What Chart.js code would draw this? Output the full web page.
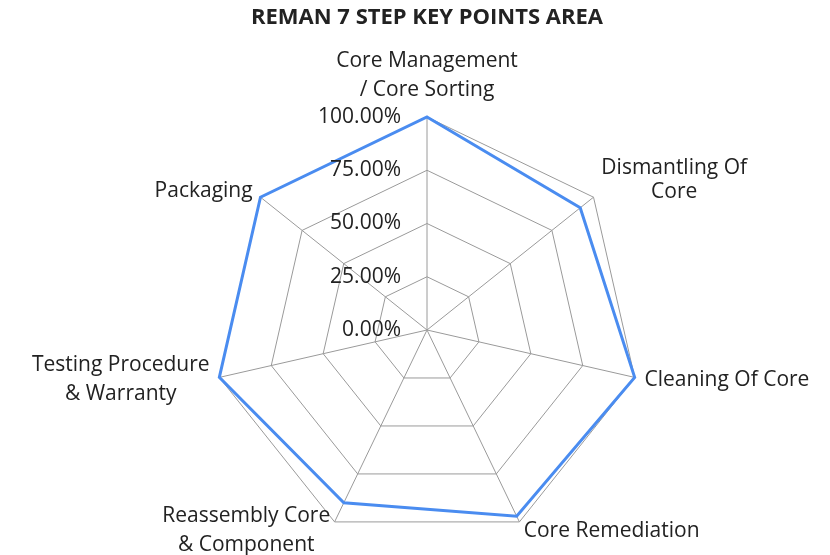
<!DOCTYPE html>
<html>
<head>
<meta charset="utf-8">
<script src="https://cdn.jsdelivr.net/npm/chart.js@4.4.1/dist/chart.umd.min.js"></script>
<style>
  html, body { margin: 0; padding: 0; background: #ffffff; }
  #wrap { width: 830px; height: 555px; position: relative; }
</style>
</head>
<body>
<div id="wrap"><canvas id="c"></canvas></div>
<script>
// ---- data ----
const categories = [
  ['Core Management', '/ Core Sorting'],
  ['Dismantling Of', 'Core'],
  'Cleaning Of Core',
  'Core Remediation',
  ['Reassembly Core', '& Component'],
  ['Testing Procedure', '& Warranty'],
  'Packaging'
];
const keyPointValues = [1.00, 0.92, 1.00, 0.97, 0.90, 1.00, 1.00];
const tickValues = [0, 0.25, 0.5, 0.75, 1.0];
const tickLabels = ['0.00%', '25.00%', '50.00%', '75.00%', '100.00%'];
const chartTitle = 'REMAN 7 STEP KEY POINTS AREA';

// ---- styles ----
const FONT_FAMILY = '"Open Sans", "DejaVu Sans", sans-serif';
const LABEL_SIZE = 21;
const LINE_GAP = 29;
const LABEL_PAD = 10;
const TEXT_COLOR = '#222222';

const labelPlugin = {
  id: 'customLabels',
  afterDraw(chart) {
    const s = chart.scales.r;
    const ctx = chart.ctx;
    ctx.save();
    ctx.fillStyle = TEXT_COLOR;
    ctx.font = LABEL_SIZE + 'px ' + FONT_FAMILY;
    ctx.textBaseline = 'middle';
    // tick labels (right-aligned left of the vertical axis)
    ctx.textAlign = 'right';
    tickValues.forEach((v, i) => {
      const d = s.getDistanceFromCenterForValue(v);
      ctx.fillText(tickLabels[i], s.xCenter - 26, s.yCenter - d);
    });
    // point labels
    ctx.textAlign = 'center';
    categories.forEach((lab, i) => {
      const lines = Array.isArray(lab) ? lab : [lab];
      const n = lines.length;
      const p = s.getPointPosition(i, s.drawingArea + LABEL_PAD);
      const a = s.getIndexAngle(i);
      const sin = Math.sin(a), cos = Math.cos(a);
      const w = Math.max(...lines.map(l => ctx.measureText(l).width));
      let cx;
      if (sin > 0.1) cx = p.x + w / 2;
      else if (sin < -0.1) cx = p.x - w / 2;
      else cx = p.x;
      let firstY;
      if (cos > 0.9) {
        const lastY = p.y - 17;
        firstY = lastY - (n - 1) * LINE_GAP;
      } else if (cos > 0.3) {
        firstY = p.y - (n - 1) * LINE_GAP + (n > 1 ? 6 : 0);
      } else {
        firstY = p.y - (n - 1) * LINE_GAP / 2;
      }
      const gap = (cos > 0.3 && cos <= 0.9) ? LINE_GAP - 5 : LINE_GAP;
      lines.forEach((l, k) => ctx.fillText(l, cx, firstY + k * gap));
    });
    ctx.restore();
  }
};

new Chart(document.getElementById('c'), {
  type: 'radar',
  data: {
    labels: categories,
    datasets: [{
      label: 'Key points',
      data: keyPointValues,
      borderColor: '#4a8cf0',
      borderWidth: 3,
      pointRadius: 0,
      pointHoverRadius: 0,
      fill: false,
      tension: 0
    }]
  },
  options: {
    responsive: true,
    maintainAspectRatio: false,
    animation: false,
    events: [],
    layout: { padding: { top: 0, left: 24, right: 0, bottom: 12 } },
    plugins: {
      legend: { display: false },
      tooltip: { enabled: false },
      title: {
        display: true,
        text: chartTitle,
        color: TEXT_COLOR,
        font: { family: FONT_FAMILY, size: 22, weight: 'bold', lineHeight: 1.2 },
        padding: { top: 5, bottom: 85.6 }
      }
    },
    scales: {
      r: {
        min: 0,
        max: 1,
        ticks: { display: false, stepSize: 0.25 },
        pointLabels: { display: false },
        grid: { circular: false, color: '#9a9a9a', lineWidth: 1 },
        angleLines: { display: true, color: '#9a9a9a', lineWidth: 1 }
      }
    }
  },
  plugins: [labelPlugin]
});
</script>
</body>
</html>
